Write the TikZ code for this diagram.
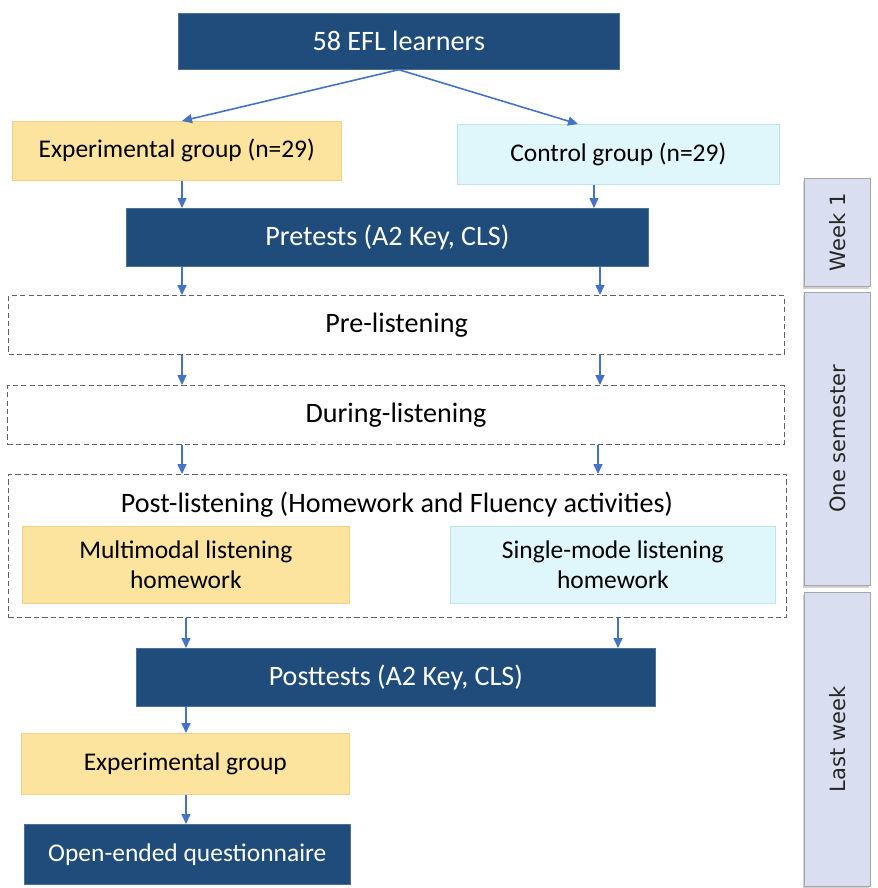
\documentclass[tikz,border=0pt]{standalone}
\usepackage{fontspec}
\setmainfont{Carlito}
\newfontfamily\sidefont{DejaVu Sans}
\usepackage{xcolor}
\usepackage{tikz}
\usetikzlibrary{arrows.meta,positioning,shadows}
\definecolor{navycol}{HTML}{1F4C7A}
\definecolor{yelcol}{HTML}{FCE49E}
\definecolor{yeldraw}{HTML}{F2D08C}
\definecolor{cyancol}{HTML}{DFF6FA}
\definecolor{cyandraw}{HTML}{BEE3EC}
\definecolor{arcol}{HTML}{4472C4}
\definecolor{sidecol}{HTML}{D9DFF0}
\definecolor{dashcol}{HTML}{5A6270}

\begin{document}
\begin{tikzpicture}[x=0.02cm,y=-0.02cm,font=\fontsize{16}{19}\selectfont,
  dk/.style={fill=navycol,draw=navycol!80,text=white,anchor=north west,inner sep=0pt,align=center},
  yl/.style={fill=yelcol,draw=yeldraw,anchor=north west,inner sep=0pt,align=center,
             font=\fontsize{14.5}{17.5}\selectfont},
  cy/.style={fill=cyancol,draw=cyandraw,anchor=north west,inner sep=0pt,align=center,
             font=\fontsize{14.5}{17.5}\selectfont},
  dsh/.style={draw=dashcol,dash pattern=on 3pt off 1.8pt,line width=0.7pt,anchor=north west,
              inner sep=0pt,align=center},
  side/.style={fill=sidecol,draw=gray!70,anchor=north west,inner sep=0pt,
               drop shadow={shadow xshift=-1pt,shadow yshift=-1.5pt,opacity=.35}},
  sidetxt/.style={rotate=90,font=\sidefont\fontsize{12}{14}\selectfont,text=black!85},
  ar/.style={-{Triangle[length=2mm,width=1.8mm]},line width=0.9pt,arcol},
]
\useasboundingbox (0,0) rectangle (877,888);
% main boxes
\node[dk,minimum width=8.82cm,minimum height=1.12cm] (lrn) at (178,13) {58 EFL learners};
\node[yl,minimum width=6.58cm,minimum height=1.18cm] (expg) at (12,121) {Experimental group (n=29)};
\node[cy,minimum width=6.44cm,minimum height=1.2cm] (ctrl) at (457,124) {Control group (n=29)};
\node[dk,minimum width=10.44cm,minimum height=1.16cm] (pre) at (126,208) {Pretests (A2 Key, CLS)};
% listening stages
\node[dsh,minimum width=15.52cm,minimum height=1.18cm] (prel) at (8,295) {Pre-listening};
\node[dsh,minimum width=15.54cm,minimum height=1.18cm] (dur) at (7,385) {During-listening};
\node[dsh,minimum width=15.56cm,minimum height=2.86cm] (post) at (8,474) {};
\node (postlbl) at (397,505) {Post-listening (Homework and Fluency activities)};
\node[yl,minimum width=6.54cm,minimum height=1.54cm] (mm) at (22,526) {Multimodal listening\\homework};
\node[cy,minimum width=6.5cm,minimum height=1.54cm] (sm) at (450,526) {Single-mode listening\\homework};
% after
\node[dk,minimum width=10.38cm,minimum height=1.16cm] (postt) at (136,648) {Posttests (A2 Key, CLS)};
\node[yl,minimum width=6.56cm,minimum height=1.22cm] (exp2) at (21,733) {Experimental group};
\node[dk,minimum width=6.52cm,minimum height=1.2cm,font=\fontsize{14.5}{17.5}\selectfont] (oeq) at (24,824) {Open-ended questionnaire};
% time bars
\node[side,minimum width=1.32cm,minimum height=2.16cm] (wk1) at (804,178) {};
\node[side,minimum width=1.32cm,minimum height=5.86cm] (sem) at (804,292) {};
\node[side,minimum width=1.32cm,minimum height=5.88cm] (lw) at (804,592) {};
\node[sidetxt] at (wk1.center) {Week 1};
\node[sidetxt] at (sem.center) {One semester};
\node[sidetxt] at (lw.center) {Last week};
% arrows
\draw[ar] (lrn.south) -- (expg.north -| 182,0);
\draw[ar] (lrn.south) -- (ctrl.north -| 578,0);
\draw[ar] (expg.south -| 182,0) -- (pre.north -| 182,0);
\draw[ar] (ctrl.south -| 594,0) -- (pre.north -| 594,0);
\draw[ar] (pre.south -| 182,0) -- (prel.north -| 182,0);
\draw[ar] (pre.south -| 600,0) -- (prel.north -| 600,0);
\draw[ar] (prel.south -| 182,0) -- (dur.north -| 182,0);
\draw[ar] (prel.south -| 600,0) -- (dur.north -| 600,0);
\draw[ar] (dur.south -| 182,0) -- (post.north -| 182,0);
\draw[ar] (dur.south -| 598,0) -- (post.north -| 598,0);
\draw[ar] (post.south -| 186,0) -- (postt.north -| 186,0);
\draw[ar] (post.south -| 618,0) -- (postt.north -| 618,0);
\draw[ar] (postt.south -| 186,0) -- (exp2.north -| 186,0);
\draw[ar] (exp2.south -| 186,0) -- (oeq.north -| 186,0);
\end{tikzpicture}
\end{document}
